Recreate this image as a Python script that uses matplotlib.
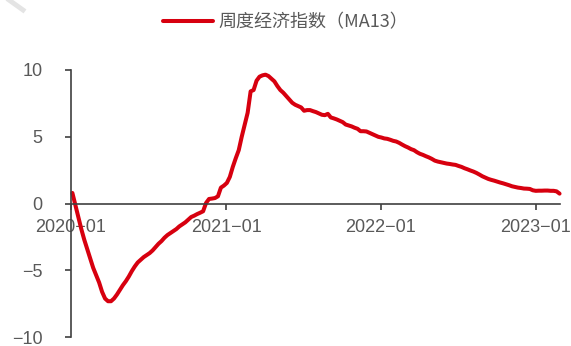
import numpy as np
import matplotlib
matplotlib.use('Agg')
import matplotlib.pyplot as plt
import matplotlib.dates as mdates
from matplotlib.lines import Line2D

# weekly economic index, 13-week moving average
start_date = '2020-01-05'
index_ma13 = [
    0.80, -0.10, -1.00, -1.90, -2.70, -3.40, -4.10, -4.80, -5.35, -5.90,
    -6.60, -7.10, -7.30, -7.30, -7.10, -6.80, -6.45, -6.10, -5.80, -5.45,
    -5.05, -4.70, -4.40, -4.20, -4.00, -3.85, -3.70, -3.50, -3.25, -3.00,
    -2.80, -2.55, -2.35, -2.20, -2.05, -1.90, -1.70, -1.55, -1.40, -1.20,
    -1.00, -0.90, -0.78, -0.68, -0.57, 0.05, 0.35, 0.38, 0.42, 0.55,
    1.20, 1.35, 1.55, 2.00, 2.75, 3.40, 4.00, 5.00, 5.90, 6.80,
    8.40, 8.50, 9.20, 9.50, 9.60, 9.65, 9.55, 9.35, 9.15, 8.80,
    8.50, 8.30, 8.05, 7.80, 7.55, 7.40, 7.30, 7.20, 6.95, 7.00,
    7.00, 6.92, 6.85, 6.75, 6.65, 6.62, 6.72, 6.45, 6.38, 6.30,
    6.20, 6.10, 5.92, 5.85, 5.78, 5.68, 5.60, 5.42, 5.42, 5.40,
    5.30, 5.20, 5.10, 5.00, 4.95, 4.88, 4.85, 4.78, 4.70, 4.65,
    4.55, 4.42, 4.30, 4.20, 4.08, 4.00, 3.85, 3.73, 3.65, 3.55,
    3.46, 3.35, 3.22, 3.15, 3.10, 3.05, 3.00, 2.97, 2.93, 2.90,
    2.82, 2.75, 2.65, 2.57, 2.48, 2.40, 2.30, 2.18, 2.05, 1.95,
    1.85, 1.78, 1.72, 1.65, 1.58, 1.52, 1.45, 1.38, 1.30, 1.25,
    1.20, 1.17, 1.13, 1.12, 1.10, 1.00, 0.96, 0.97, 0.97, 0.98,
    0.98, 0.96, 0.96, 0.92, 0.75,
]
series_label = '周度经济指数（MA13）'
x_ticks = ['2020-01-01', '2021-01-01', '2022-01-01', '2023-01-01']
y_ticks = [-10, -5, 0, 5, 10]

dates = np.datetime64(start_date) + 7 * np.arange(len(index_ma13))
dates = dates.astype('datetime64[D]')

RED = '#d7000f'
GREY = '#595959'
AXIS = '#404040'

fig = plt.figure(figsize=(5.71, 3.46), dpi=100)
ax = fig.add_axes([0.1238, 0.0251, 0.8569, 0.7726])

line, = ax.plot(dates, index_ma13, color=RED, lw=2.9, clip_on=False,
                solid_capstyle='round', label=series_label)

ax.set_ylim(-10, 10)
ax.set_xlim(np.datetime64('2020-01-01'), np.datetime64('2023-02-27'))
ax.set_yticks(y_ticks)
ax.set_xticks([np.datetime64(d) for d in x_ticks])
ax.xaxis.set_major_formatter(mdates.DateFormatter('%Y\u2212%m'))

for side in ('top', 'right'):
    ax.spines[side].set_visible(False)
ax.spines['bottom'].set_position(('data', 0))
for side in ('left', 'bottom'):
    ax.spines[side].set_color(AXIS)
    ax.spines[side].set_linewidth(1.2)

ax.tick_params(axis='y', direction='out', length=4.3, width=1.2, color=AXIS,
               pad=16, labelsize=13, labelcolor=GREY)
ax.tick_params(axis='x', direction='out', length=4.3, width=1.2, color=AXIS,
               pad=7, labelsize=13, labelcolor=GREY)
for lbl in ax.get_xticklabels() + ax.get_yticklabels():
    lbl.set_fontfamily('Liberation Sans')

fig.legend(handles=[line], loc='center', bbox_to_anchor=(0.5, 1 - 22 / 346),
           frameon=False, handlelength=2.77, handletextpad=0.3,
           prop={'family': ['Noto Sans CJK SC', 'DejaVu Sans'], 'size': 13},
           labelcolor=GREY)

# faint stroke in the top-left corner
fig.add_artist(Line2D([9 / 571, 23 / 571], [1.0, 1 - 10 / 346],
                      transform=fig.transFigure, color='#e4e4e4', lw=3.5))

fig.savefig('out.png', dpi=100)
